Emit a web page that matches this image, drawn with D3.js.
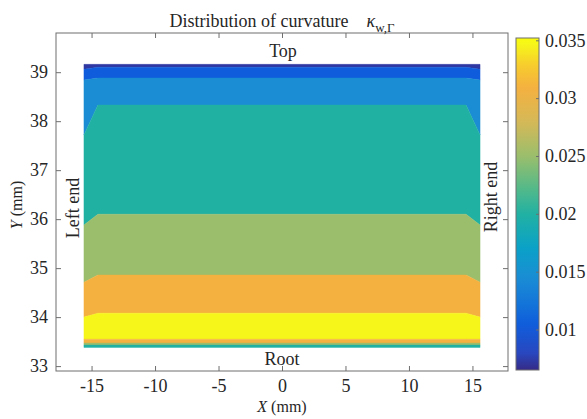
<!DOCTYPE html>
<html lang="en">
<head>
<meta charset="UTF-8">
<title>Distribution of curvature</title>
<style>
  body { margin: 0; padding: 0; background: #ffffff; }
  svg { display: block; background: #ffffff; }
  text { font-family: "Liberation Serif", "DejaVu Serif", serif; fill: #262626; }
</style>
</head>
<body>
<svg width="587" height="419"></svg>
<script src="https://d3js.org/d3.v7.min.js"></script>
<script>
// ---- data ----
// x positions (mm) of the mesh columns that bound the filled contour
const xNodes = [-15.6, -14.5, 14.5, 15.6];
// contour band boundaries, top to bottom, y (mm) at each x node
const boundaryY = [
  [39.16, 39.16, 39.16, 39.16],
  [39.06, 39.10, 39.10, 39.06],
  [38.84, 38.88, 38.88, 38.84],
  [37.72, 38.33, 38.33, 37.72],
  [35.88, 36.10, 36.10, 35.88],
  [34.71, 34.86, 34.86, 34.71],
  [34.00, 34.08, 34.08, 34.00],
  [33.55, 33.55, 33.55, 33.55],
  [33.47, 33.47, 33.47, 33.47],
  [33.43, 33.43, 33.43, 33.43],
  [33.38, 33.38, 33.38, 33.38]
];
// curvature level filling each band (top to bottom)
const bandLevels = [0.0072, 0.0105, 0.0145, 0.0200, 0.0250, 0.0310, 0.0346, 0.0310, 0.0250, 0.0200];

const xTicks = [-15, -10, -5, 0, 5, 10, 15];
const yTicks = [33, 34, 35, 36, 37, 38, 39];
const cbTicks = [0.01, 0.015, 0.02, 0.025, 0.03, 0.035];
const cbTickLabels = ["0.01", "0.015", "0.02", "0.025", "0.03", "0.035"];

// parula-like colormap stops
const cmapValues = [0.0065, 0.0080, 0.0105, 0.0125, 0.0145, 0.0170, 0.0200, 0.0225, 0.0250, 0.0280, 0.0310, 0.0330, 0.0346, 0.0352];
const cmapColors = ["#352a87", "#2848c0", "#0f5ddc", "#1478d8", "#1a8dd4", "#0aa1c8", "#21b1a3", "#5bba86", "#9bbe6c", "#d6b857", "#f5b13f", "#f7cf2c", "#f6f61a", "#f9fb0e"];

// ---- layout ----
const svg = d3.select("svg");
const plot = { left: 56, right: 508, top: 33, bottom: 371 };
const cb = { left: 516, right: 539, top: 38, bottom: 370 };

const x = d3.scaleLinear().domain([-17.8, 17.8]).range([plot.left, plot.right]);
const y = d3.scaleLinear().domain([32.9, 39.8]).range([plot.bottom, plot.top]);
const color = d3.scaleLinear().domain(cmapValues).range(cmapColors);
const cy = d3.scaleLinear().domain([0.0065, 0.0352]).range([cb.bottom, cb.top]);

const axisColor = "#6e6e6e";
const plain = d => String(d);

// filled bands
const line = d3.line().x(d => x(d[0])).y(d => y(d[1]));
const bands = bandLevels.map((v, i) => {
  const upper = xNodes.map((xv, j) => [xv, boundaryY[i][j]]);
  const lower = xNodes.map((xv, j) => [xv, boundaryY[i + 1][j]]).reverse();
  return { level: v, pts: upper.concat(lower) };
});
svg.append("g")
  .selectAll("path")
  .data(bands)
  .enter()
  .append("path")
  .attr("d", d => line(d.pts) + "Z")
  .attr("fill", d => color(d.level))
  .attr("stroke", d => color(d.level))
  .attr("stroke-width", 0.4);

// axes (box with mirrored inward ticks)
const tickLen = 5;
const axes = svg.append("g");
axes.append("g")
  .attr("transform", `translate(0,${plot.bottom})`)
  .call(d3.axisBottom(x).tickValues(xTicks).tickSizeInner(-tickLen).tickSizeOuter(0).tickPadding(8).tickFormat(plain))
  .call(g => g.selectAll("text").attr("font-size", 18).style("font-family", "Liberation Serif"));
axes.append("g")
  .attr("transform", `translate(0,${plot.top})`)
  .call(d3.axisTop(x).tickValues(xTicks).tickSizeInner(-tickLen).tickSizeOuter(0).tickFormat(""));
axes.append("g")
  .attr("transform", `translate(${plot.left},0)`)
  .call(d3.axisLeft(y).tickValues(yTicks).tickSizeInner(-tickLen).tickSizeOuter(0).tickPadding(8).tickFormat(plain))
  .call(g => g.selectAll("text").attr("font-size", 18).style("font-family", "Liberation Serif"));
axes.append("g")
  .attr("transform", `translate(${plot.right},0)`)
  .call(d3.axisRight(y).tickValues(yTicks).tickSizeInner(-tickLen).tickSizeOuter(0).tickFormat(""));
axes.selectAll(".domain").remove();
axes.selectAll(".tick line").attr("stroke", axisColor);
axes.selectAll(".tick text").attr("fill", "#262626");
svg.append("rect")
  .attr("x", plot.left).attr("y", plot.top)
  .attr("width", plot.right - plot.left).attr("height", plot.bottom - plot.top)
  .attr("fill", "none").attr("stroke", axisColor).attr("stroke-width", 1);

// colorbar
const defs = svg.append("defs");
const grad = defs.append("linearGradient")
  .attr("id", "cmap").attr("x1", 0).attr("y1", 1).attr("x2", 0).attr("y2", 0);
const nStops = 60;
d3.range(nStops + 1).forEach(i => {
  const v = 0.0065 + (0.0352 - 0.0065) * i / nStops;
  grad.append("stop").attr("offset", (i / nStops)).attr("stop-color", color(v));
});
svg.append("rect")
  .attr("x", cb.left).attr("y", cb.top)
  .attr("width", cb.right - cb.left).attr("height", cb.bottom - cb.top)
  .attr("fill", "url(#cmap)").attr("stroke", axisColor).attr("stroke-width", 1);
const cbAxis = svg.append("g")
  .attr("transform", `translate(${cb.right},0)`)
  .call(d3.axisRight(cy).tickValues(cbTicks).tickSizeInner(-3).tickSizeOuter(0).tickPadding(6)
    .tickFormat((d, i) => cbTickLabels[i]));
cbAxis.select(".domain").remove();
cbAxis.selectAll(".tick line").attr("stroke", axisColor);
cbAxis.selectAll("text").attr("font-size", 18).attr("fill", "#262626").style("font-family", "Liberation Serif");

// title
const title = svg.append("text")
  .attr("x", (plot.left + plot.right) / 2).attr("y", 27)
  .attr("text-anchor", "middle").attr("font-size", 18);
title.append("tspan").text("Distribution of curvature\u2002\u2002");
title.append("tspan").attr("font-style", "italic").text("\u03ba");
title.append("tspan").attr("font-size", 13).attr("dy", 5).text("w,\u0393");

// axis labels
const xl = svg.append("text")
  .attr("x", (plot.left + plot.right) / 2).attr("y", 412)
  .attr("text-anchor", "middle").attr("font-size", 16);
xl.append("tspan").attr("font-style", "italic").text("X");
xl.append("tspan").text(" (mm)");
const yl = svg.append("text")
  .attr("transform", "translate(22,205) rotate(-90)")
  .attr("text-anchor", "middle").attr("font-size", 16);
yl.append("tspan").attr("font-style", "italic").text("Y");
yl.append("tspan").text(" (mm)");

// annotations
svg.append("text").attr("x", 283).attr("y", 57).attr("text-anchor", "middle")
  .attr("font-size", 18).text("Top");
svg.append("text").attr("x", 282).attr("y", 365).attr("text-anchor", "middle")
  .attr("font-size", 18).text("Root");
svg.append("text").attr("transform", "translate(79,208) rotate(-90)").attr("text-anchor", "middle")
  .attr("font-size", 18).text("Left end");
svg.append("text").attr("transform", "translate(497,197) rotate(-90)").attr("text-anchor", "middle")
  .attr("font-size", 18).text("Right end");
</script>
</body>
</html>
